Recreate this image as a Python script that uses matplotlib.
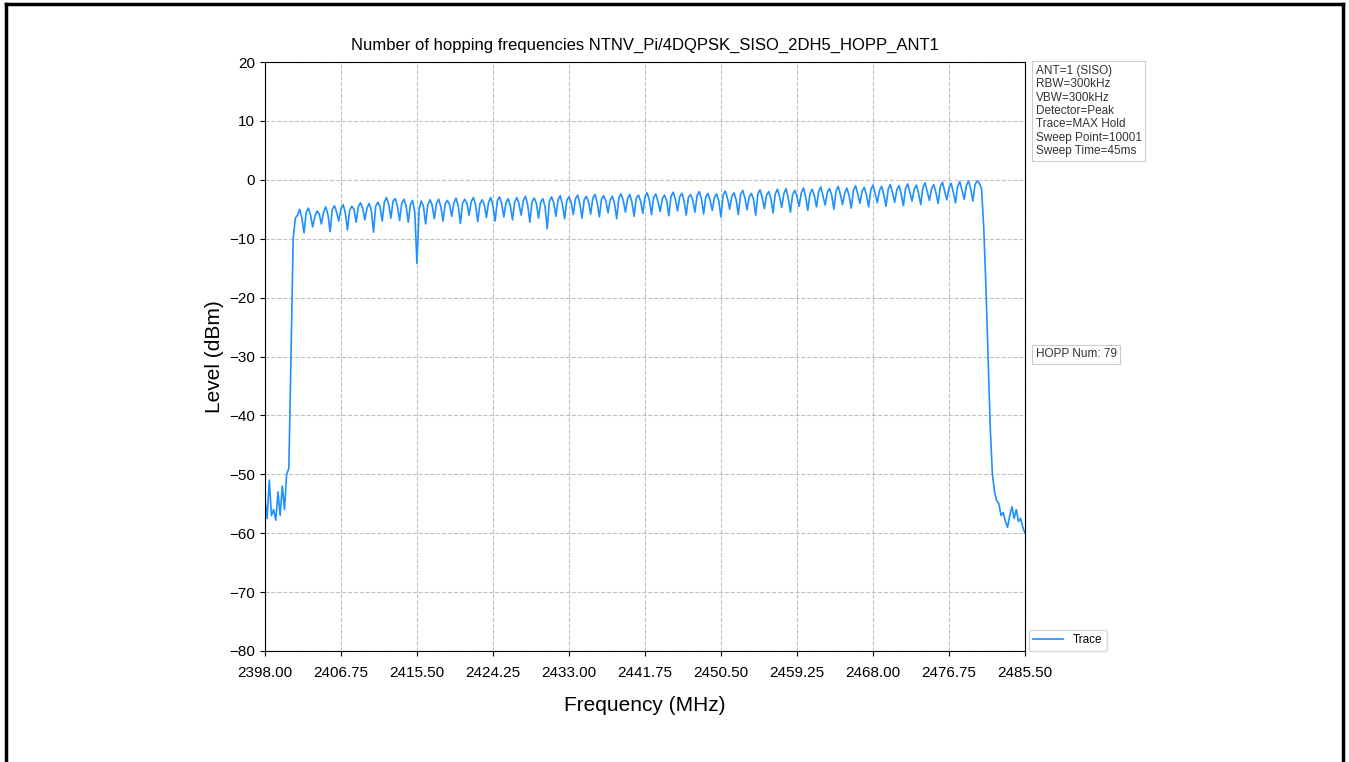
import numpy as np
import matplotlib
matplotlib.use("Agg")
import matplotlib.pyplot as plt
from matplotlib.lines import Line2D

plt.rcParams['font.family'] = ['Liberation Sans', 'DejaVu Sans']

# noise floor below the band + rising edge
left_freq = [2398.0, 2398.25, 2398.5, 2398.75, 2399.0, 2399.25, 2399.5, 2399.75,
             2400.0, 2400.25, 2400.5, 2400.75, 2401.0, 2401.25, 2401.5]
left_level = [-54.0, -57.5, -51.0, -57.0, -56.0, -57.8, -53.0, -57.0,
              -52.0, -56.0, -50.0, -49.0, -30.0, -10.0, -6.5]

# hopping channels 2402..2480 MHz, levels at c-0.25, c, c+0.25, c+0.5
channels = list(range(2402, 2481))
channel_levels = [
    [-6.0, -5.0, -6.5, -9.0], [-5.5, -4.8, -6.0, -8.0], [-6.2, -5.3, -5.8, -7.5],
    [-5.5, -4.6, -5.9, -8.8], [-5.0, -4.4, -5.5, -7.0], [-4.9, -4.2, -5.6, -8.5],
    [-5.2, -4.5, -5.0, -7.2], [-4.6, -3.9, -4.8, -6.8], [-4.8, -4.0, -5.2, -8.9],
    [-4.5, -3.8, -4.6, -7.0], [-3.8, -3.0, -4.2, -6.5], [-3.6, -3.2, -4.5, -6.9],
    [-4.0, -3.3, -4.4, -7.2], [-4.2, -3.5, -5.5, -14.2], [-5.0, -3.6, -4.5, -7.5],
    [-4.2, -3.4, -4.3, -6.6], [-4.0, -3.3, -4.6, -7.0], [-4.1, -3.5, -4.2, -6.2],
    [-3.9, -3.1, -4.4, -7.4], [-4.0, -3.3, -4.0, -6.0], [-3.7, -3.0, -4.3, -7.1],
    [-4.1, -3.4, -4.2, -6.4], [-3.8, -3.0, -4.5, -7.0], [-3.6, -2.9, -4.0, -6.3],
    [-3.9, -3.2, -4.4, -6.8], [-3.8, -3.0, -4.1, -6.0], [-3.5, -2.8, -4.3, -7.2],
    [-3.7, -3.1, -4.0, -6.5], [-3.8, -3.2, -4.6, -8.3], [-3.6, -2.9, -3.9, -6.2],
    [-3.4, -2.7, -4.2, -6.6], [-3.5, -2.9, -3.8, -5.9], [-3.2, -2.6, -4.0, -6.5],
    [-3.4, -2.8, -3.7, -5.8], [-3.1, -2.5, -3.9, -6.3], [-3.3, -2.7, -3.6, -5.6],
    [-3.4, -2.8, -4.1, -6.6], [-3.0, -2.4, -3.5, -5.5], [-3.2, -2.5, -3.8, -6.2],
    [-3.1, -2.6, -3.6, -5.7], [-2.9, -2.2, -3.4, -5.9], [-3.0, -2.4, -3.7, -5.4],
    [-3.2, -2.6, -3.5, -6.1], [-2.8, -2.1, -3.3, -5.3], [-2.9, -2.3, -3.6, -6.0],
    [-3.0, -2.5, -3.4, -5.5], [-2.7, -2.0, -3.2, -5.8], [-2.9, -2.3, -3.5, -5.2],
    [-3.0, -2.4, -3.6, -6.3], [-2.6, -1.9, -3.1, -5.0], [-2.8, -2.2, -3.4, -5.9],
    [-2.5, -1.8, -3.0, -5.1], [-2.9, -2.3, -3.3, -6.0], [-2.4, -1.7, -3.0, -4.9],
    [-2.6, -2.0, -3.2, -5.6], [-2.4, -1.6, -2.9, -4.7], [-2.3, -1.5, -3.1, -5.5],
    [-2.5, -1.8, -2.8, -4.5], [-2.2, -1.4, -2.9, -5.2], [-2.3, -1.6, -2.7, -4.6],
    [-2.0, -1.2, -2.8, -4.3], [-2.1, -1.5, -2.6, -5.0], [-1.9, -1.1, -2.5, -4.2],
    [-2.2, -1.4, -2.7, -4.8], [-1.8, -1.0, -2.4, -4.0], [-1.9, -1.3, -2.6, -4.6],
    [-1.7, -0.9, -2.3, -3.9], [-1.8, -1.1, -2.5, -4.5], [-1.6, -0.8, -2.2, -3.8],
    [-1.7, -1.0, -2.4, -4.4], [-1.5, -0.7, -2.1, -3.6], [-1.6, -0.9, -2.3, -4.2],
    [-1.3, -0.5, -2.0, -3.5], [-1.5, -0.8, -2.2, -4.0], [-1.2, -0.4, -1.9, -3.4],
    [-1.4, -0.6, -2.1, -3.9], [-1.1, -0.3, -1.8, -3.3], [-1.0, -0.2, -1.5, -3.6],
    [-0.8, -0.2, -0.6, -1.5],
]
channel_offsets = [-0.25, 0.0, 0.25, 0.5]

# falling edge + noise floor above the band
right_freq = [2480.75, 2481.0, 2481.25, 2481.5, 2481.75, 2482.0, 2482.25, 2482.5,
              2482.75, 2483.0, 2483.25, 2483.5, 2483.75, 2484.0, 2484.25, 2484.5,
              2484.75, 2485.0, 2485.25, 2485.5]
right_level = [-8.0, -18.0, -30.0, -42.0, -50.0, -53.0, -54.5, -55.0,
               -57.0, -56.5, -58.0, -59.0, -57.0, -55.5, -57.5, -56.0,
               -58.0, -57.5, -59.0, -60.0]

xticks = [2398.00, 2406.75, 2415.50, 2424.25, 2433.00, 2441.75,
          2450.50, 2459.25, 2468.00, 2476.75, 2485.50]
yticks = list(range(-80, 21, 10))

info_text = ("ANT=1 (SISO)\nRBW=300kHz\nVBW=300kHz\nDetector=Peak\n"
             "Trace=MAX Hold\nSweep Point=10001\nSweep Time=45ms")
hopp_text = "HOPP Num: 79"

# assemble trace
freq = list(left_freq)
level = list(left_level)
for c, row in zip(channels, channel_levels):
    for off, v in zip(channel_offsets, row):
        freq.append(c + off)
        level.append(v)
freq += right_freq
level += right_level

fig = plt.figure(figsize=(13.49, 7.62), dpi=100)
ax = fig.add_axes([0.1964, 0.1457, 0.5634, 0.7729])

ax.plot(freq, level, color='#1E90FF', linewidth=1.2, label='Trace')

ax.set_xlim(2398.0, 2485.5)
ax.set_ylim(-80, 20)
ax.set_xticks(xticks)
ax.set_xticklabels([f"{t:.2f}" for t in xticks])
ax.set_yticks(yticks)
ax.tick_params(labelsize=11)
ax.tick_params(axis='x', pad=7)
ax.grid(True, linestyle='--', color='#999999', linewidth=0.8, alpha=0.6)

ax.set_title("Number of hopping frequencies NTNV_Pi/4DQPSK_SISO_2DH5_HOPP_ANT1",
             fontsize=12, pad=9)
ax.set_xlabel("Frequency (MHz)", fontsize=15, labelpad=12)
ax.set_ylabel("Level (dBm)", fontsize=15)

box = dict(boxstyle='square,pad=0.3', facecolor='white', edgecolor='#cccccc', linewidth=0.8)
ax.text(1.014, 0.995, info_text, transform=ax.transAxes, va='top', ha='left',
        fontsize=8.5, color='#333333', bbox=box, linespacing=1.15)
ax.text(1.014, 0.504, hopp_text, transform=ax.transAxes, va='center', ha='left',
        fontsize=8.5, color='#333333', bbox=box)

ax.legend(loc='lower left', bbox_to_anchor=(1.005, 0.0), fontsize=8.5,
          frameon=True, edgecolor='#cccccc', fancybox=True, borderaxespad=0.0,
          handlelength=2.5)

# outer frame of the picture
for xs, ys in [([0.0045, 0.0045], [0.0, 0.995]),
               ([0.0045, 0.9955], [0.995, 0.995]),
               ([0.9955, 0.9955], [0.0, 0.995])]:
    fig.add_artist(Line2D(xs, ys, color='black', linewidth=2.5, transform=fig.transFigure))

fig.savefig("out.png", dpi=100)
